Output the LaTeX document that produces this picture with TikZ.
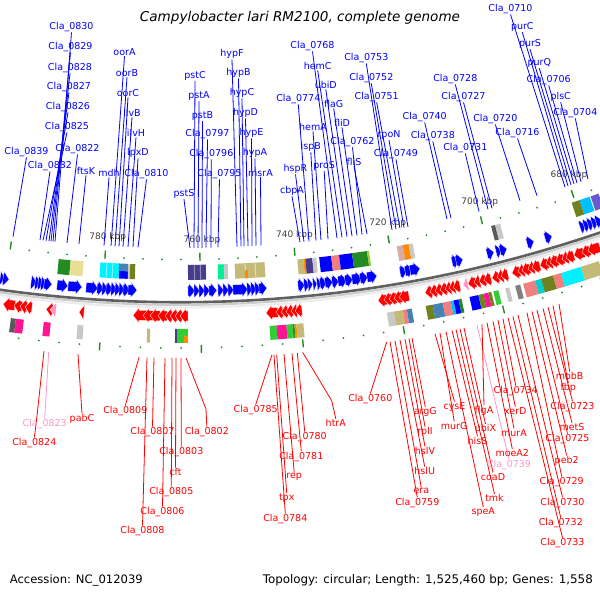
\documentclass[tikz,border=0pt]{standalone}
\usepackage{fontspec}
\setmainfont{DejaVu Sans}
\usepackage{graphicx}
\definecolor{fb}{RGB}{0,0,255}
\definecolor{fr}{RGB}{255,0,0}
\definecolor{fp}{RGB}{255,150,200}
\definecolor{tg}{RGB}{34,139,34}
\definecolor{tk}{RGB}{232,222,150}
\definecolor{dk}{RGB}{196,186,120}
\definecolor{dsb}{RGB}{72,61,139}
\definecolor{msg}{RGB}{0,240,150}
\definecolor{lc}{RGB}{240,128,128}
\definecolor{stb}{RGB}{70,130,180}
\definecolor{olv}{RGB}{110,130,30}
\definecolor{dpk}{RGB}{255,20,147}
\definecolor{lgr}{RGB}{50,205,50}
\definecolor{fgr}{RGB}{34,139,34}
\definecolor{dsky}{RGB}{0,191,255}
\definecolor{org}{RGB}{255,140,0}
\definecolor{lgy}{RGB}{200,200,200}
\definecolor{gy}{RGB}{128,128,128}
\definecolor{cy}{RGB}{0,240,255}
\definecolor{dtq}{RGB}{0,206,209}
\definecolor{yg}{RGB}{154,205,50}
\definecolor{slb}{RGB}{106,90,205}
\newcommand\polpt[2]{({180+(#2)*sin(#1)},{-998+(#2)*cos(#1)})}
\newcommand\ringpt[2]{({#1},{-998+(#2)*cos(asin(((#1)-180)/(#2)))})}
\newcommand\farr[3]{%
 \pgfmathsetmacro\aA{asin((#1-180)/1289)}%
 \pgfmathsetmacro\aB{asin((#2-180)/1289)}%
 \pgfmathsetmacro\aH{max(\aA,\aB-0.26)}%
 \filldraw[fill=#3,draw=white,line width=0.3pt] \polpt{\aA}{1284} -- \polpt{\aH}{1284} -- \polpt{\aH}{1281.5} -- \polpt{\aB}{1289} -- \polpt{\aH}{1296.5} -- \polpt{\aH}{1294} -- \polpt{\aA}{1294} -- cycle;}
\newcommand\rarr[3]{%
 \pgfmathsetmacro\aA{asin((#1-180)/1314)}%
 \pgfmathsetmacro\aB{asin((#2-180)/1314)}%
 \pgfmathsetmacro\aH{min(\aB,\aA+0.26)}%
 \filldraw[fill=#3,draw=white,line width=0.3pt] \polpt{\aB}{1309} -- \polpt{\aH}{1309} -- \polpt{\aH}{1306.5} -- \polpt{\aA}{1314} -- \polpt{\aH}{1321.5} -- \polpt{\aH}{1319} -- \polpt{\aB}{1319} -- cycle;}
\newcommand\cogx[5]{%
 \pgfmathsetmacro\aA{asin((#1-180)/(#4/2+#5/2))}%
 \pgfmathsetmacro\aB{asin((#2-180)/(#4/2+#5/2))}%
 \fill[#3] \polpt{\aA}{#4} -- \polpt{\aB}{#4} -- \polpt{\aB}{#5} -- \polpt{\aA}{#5} -- cycle;}
\newcommand\cogb[3]{\cogx{#1}{#2}{#3}{1263}{1278}}
\newcommand\cogr[3]{\cogx{#1}{#2}{#3}{1327}{1341}}
\newcommand\blab[5]{\node[lb] (#1) at (#2,#3) {#4}; \path \ringpt{#5}{1246} coordinate (#1e); \draw[bline] (#1e) -- (#1.south);}
\newcommand\rlab[6]{\node[lr,text=#1] (#2) at (#3,#4) {#5}; \path \ringpt{#6}{1356} coordinate (#2s); \draw[#1,line width=0.8pt] (#2s) -- (#2.north);}
\newcommand\rlabk[8]{\node[lr,text=#1] (#2) at (#3,#4) {#5}; \path \ringpt{#6}{1356} coordinate (#2s); \coordinate (#2k) at (#7,#8); \draw[#1,line width=0.8pt] (#2s) -- (#2k) -- (#2.north);}
\tikzset{
 lb/.style={font=\fontsize{9.5}{11}\selectfont, text=fb, inner sep=0.5pt},
 lr/.style={font=\fontsize{9.5}{11}\selectfont, inner sep=0.5pt},
 bline/.style={fb, line width=0.8pt},
 tl/.style={font=\fontsize{9}{10}\selectfont, text=black!75, inner sep=0.5pt}
}
\begin{document}
\begin{tikzpicture}[x=1pt,y=-1pt]
\useasboundingbox (0,0) rectangle (600,600);
\fill[white] (0,0) rectangle (600,600);
\begin{scope}
\clip (0,0) rectangle (600,600);
% backbone
\draw[line width=2pt,gray!15] plot[domain=-9:20,samples=90] ({180+1305.5*sin(\x)},{-998+1305.5*cos(\x)});
\draw[line width=2pt,gray!40] plot[domain=-9:20,samples=90] ({180+1303*sin(\x)},{-998+1303*cos(\x)});
\draw[line width=2.6pt,gray!75!black] plot[domain=-9:20,samples=90] ({180+1300.3*sin(\x)},{-998+1300.3*cos(\x)});
% ticks
\foreach \k in {676,680,...,800} {
 \pgfmathsetmacro\ang{0.91+(760-\k)*0.2165}
 \pgfmathtruncatemacro\mm{mod(\k,20)}
 \ifnum\mm=0
  \draw[tg,line width=1.4pt] \polpt{\ang}{1251} -- \polpt{\ang}{1259};
  \draw[tg,line width=1.4pt] \polpt{\ang}{1343} -- \polpt{\ang}{1351};
 \else
  \fill[tg] \polpt{\ang}{1257.5} circle (1pt);
  \fill[tg] \polpt{\ang}{1346} circle (1pt);
 \fi}
% blue COG boxes
\cogb{58}{70}{fgr}\cogb{70}{83}{tk}
\cogb{100}{119}{cy}\cogb{106}{107}{cy!50!white}\cogb{112}{113}{cy!50!white}
\cogx{119}{128}{stb}{1263}{1270.5}\cogx{119}{128}{fb}{1270.5}{1278}
\cogb{128}{130}{lgy}\cogb{130}{135}{olv}
\cogb{188}{206}{dsb}\cogb{194}{195}{dsb!60!white}\cogb{200}{201}{dsb!60!white}
\cogb{218}{224}{msg}\cogb{224}{228}{lgy}
\cogb{235}{265}{dk}\cogb{245}{246}{dk!50!white}\cogb{255}{256}{dk!50!white}\cogx{245}{248}{org}{1270}{1278}
\cogb{298}{304}{dk}\cogb{304}{306}{org}\cogb{306}{313}{dsb}\cogb{313}{317}{lgy}
\cogb{320}{332}{fb}\cogb{332}{340}{lc}\cogb{340}{353}{fb}\cogb{353}{368}{fgr}\cogb{368}{370}{yg}
\cogb{398}{404}{lgy!60!lc}\cogb{404}{410}{org}\cogb{410}{414}{lgy}
\cogb{493}{497}{gy!70!black}\cogb{497}{502}{lgy}
\cogb{574}{582}{olv}\cogb{582}{592}{dsky}\cogb{593}{601}{slb}
% red COG boxes
\cogr{10}{15}{gy!70!black}\cogr{15}{23}{dpk}
\cogr{43}{50}{dpk}
\cogr{77}{83}{lgy}
\cogr{147}{150}{dk}
\cogr{175}{177}{dsb}\cogr{177}{185}{lgr}\cogx{184}{188}{lgr}{1327}{1334}\cogx{184}{188}{org}{1334}{1341}
\cogr{270}{277}{lgr}\cogr{277}{287}{dpk}\cogr{287}{293}{lgr}\cogr{293}{295}{fgr}\cogr{295}{297}{org}\cogr{297}{304}{dk}
\cogr{388}{395}{lgy}\cogr{395}{404}{dk}\cogr{404}{408}{lc}\cogr{408}{413}{stb}
\cogr{427}{434}{olv}\cogr{434}{444}{stb}\cogr{444}{452}{lc}\cogr{452}{455}{dsky}\cogr{455}{460}{fb}\cogr{460}{463}{fgr}
\cogr{471}{480}{fb}\cogr{480}{485}{olv}\cogr{485}{490}{dpk}\cogr{490}{493}{olv}
\cogr{495}{500}{lgr}
\cogr{507}{511}{lgy}\cogr{517}{522}{gy}
\cogr{525}{537}{lc}\cogr{537}{543}{dtq}\cogr{543}{555}{olv}\cogr{555}{563}{lc}
\cogr{563}{583}{cy}\cogr{583}{601}{dk}
% blue arrows
\foreach \xa/\xb in {0/5,3/9,31/37,35/41,38/44,41/47,44/52,57/68,68/82,86/98,97/104,102/108,106/113,111/117,115/121,119/125,123/130,128/137,188/195,194/200,199/205,204/210,209/217,218/224,223/229,228/234,233/248,247/253,251/257,255/261,259/267,298/305,304/310,308/313,313/317,317/322,320/327,325/333,332/339,338/347,345/353,352/362,360/368,367/377,400/407,405/413,410/420,452/459,456/463,487/494,496/502,500/507,527/534,545/552,580/586,584/590,588/594,592/598,596/602}
 {\farr{\xa}{\xb}{fb}}
% red arrows
\foreach \xa/\xb in {3/15,14/22,20/27,25/32,46/53,79/84,133/147,143/153,150/160,158/167,165/172,170/177,175/182,180/188,266/278,276/283,281/288,286/293,291/297,295/302,378/387,384/392,389/397,394/402,399/409,425/432,430/437,435/442,440/447,445/451,449/455,453/460,468/476,474/480,479/486,484/491,492/499,497/503,501/508,512/520,518/524,522/530,528/534,532/540,540/548,546/552,550/558,556/564,562/568,566/574,574/584,582/590,588/600}
 {\rarr{\xa}{\xb}{fr}}
\rarr{50}{56}{fp}\rarr{463}{468}{fp}
\end{scope}
% tick labels
\node[tl] (k780) at (107.8,237.3) {780 kbp};
\node[tl] (k760) at (202,240) {760 kbp};
\node[tl] (k740) at (294.5,235) {740 kbp};
\node[tl] (k720) at (387.8,223.3) {720 kbp};
\node[tl] (k700) at (479.7,202.3) {700 kbp};
\node[tl] (k680) at (569,175) {680 kbp};
% blue labels
\blab{b0839}{26.5}{152}{Cla\_0839}{13}
\blab{b0832}{50}{166}{Cla\_0832}{40}
\blab{b0830}{71.5}{27}{Cla\_0830}{55}
\blab{b0829}{70.5}{47}{Cla\_0829}{53}
\blab{b0828}{70}{68}{Cla\_0828}{51}
\blab{b0827}{69}{87}{Cla\_0827}{49}
\blab{b0826}{68}{107}{Cla\_0826}{46}
\blab{b0825}{67}{127}{Cla\_0825}{43}
\blab{b0822}{77.5}{149}{Cla\_0822}{67}
\blab{bftsK}{86}{171}{ftsK}{79}
\blab{bmdh}{109}{173}{mdh}{104}
\blab{boorA}{124.5}{52}{oorA}{111}
\blab{boorB}{127}{73}{oorB}{115}
\blab{boorC}{128}{93}{oorC}{119}
\blab{bilvB}{132}{113}{ilvB}{123}
\blab{bilvH}{136}{133}{ilvH}{128}
\blab{blpxD}{138}{153}{lpxD}{133}
\blab{b0810}{146.5}{174}{Cla\_0810}{138}
\blab{bpstS}{184}{194}{pstS}{190}
\blab{bpstC}{195}{76}{pstC}{194}
\blab{bpstA}{199}{96}{pstA}{198}
\blab{bpstB}{202.5}{116}{pstB}{202}
\blab{b0797}{207.5}{134}{Cla\_0797}{206}
\blab{b0796}{211.3}{154}{Cla\_0796}{211}
\blab{b0795}{219.5}{174}{Cla\_0795}{218}
\blab{bhypF}{232}{54}{hypF}{237}
\blab{bhypB}{238.5}{73}{hypB}{241}
\blab{bhypC}{242}{93}{hypC}{244}
\blab{bhypD}{245.5}{113}{hypD}{248}
\blab{bhypE}{251.5}{133}{hypE}{252}
\blab{bhypA}{255}{153}{hypA}{256}
\blab{bmsrA}{260.5}{173}{msrA}{261}
\blab{bcbpA}{292}{191}{cbpA}{300}
\blab{bhspR}{295.5}{169}{hspR}{304}
\blab{b0774}{298.3}{99}{Cla\_0774}{309}
\blab{bispB}{310.8}{147}{ispB}{316}
\blab{bhemA}{313}{127}{hemA}{321}
\blab{bproS}{324.2}{166}{proS}{328}
\blab{b0768}{312.5}{46}{Cla\_0768}{337}
\blab{bhemC}{317.7}{66}{hemC}{342}
\blab{bubiD}{325.8}{85}{ubiD}{347}
\blab{bflaG}{333.7}{104}{flaG}{352}
\blab{bfliD}{342}{123}{fliD}{357}
\blab{b0762}{352.5}{142}{Cla\_0762}{362}
\blab{bfliS}{354}{162}{fliS}{367}
\blab{b0753}{366.3}{58}{Cla\_0753}{392}
\blab{b0752}{371.3}{78}{Cla\_0752}{396}
\blab{b0751}{376.7}{97}{Cla\_0751}{400}
\blab{brpoN}{389}{135}{rpoN}{404}
\blab{b0749}{396}{154}{Cla\_0749}{408}
\blab{b0740}{424.7}{117}{Cla\_0740}{447}
\blab{b0738}{432.8}{136}{Cla\_0738}{451}
\blab{b0731}{465.3}{148}{Cla\_0731}{479}
\blab{b0728}{455.3}{79}{Cla\_0728}{488}
\blab{b0727}{463.5}{97}{Cla\_0727}{492}
\blab{b0720}{495.3}{119}{Cla\_0720}{520}
\blab{b0716}{517.5}{133}{Cla\_0716}{537}
\blab{b0710}{510.5}{9}{Cla\_0710}{565}
\blab{bpurC}{522.3}{27}{purC}{568}
\blab{bpurS}{530}{44}{purS}{571}
\blab{bpurQ}{539.3}{63}{purQ}{574}
\blab{b0706}{548.7}{80}{Cla\_0706}{577}
\blab{bplsC}{560.7}{97}{plsC}{581}
\blab{b0704}{575.3}{113}{Cla\_0704}{588}
% red labels
\rlabk{fr}{r0824}{34.3}{443}{Cla\_0824}{44}{36}{425}
\rlab{fp}{r0823}{44.7}{424}{Cla\_0823}{48.7}
\rlab{fr}{rpabC}{82}{419}{pabC}{78}
\rlab{fr}{r0809}{125.3}{411}{Cla\_0809}{139}
\rlab{fr}{r0807}{152.5}{432}{Cla\_0807}{154}
\rlabk{fr}{r0802}{206.8}{432}{Cla\_0802}{186}{206}{409}
\rlab{fr}{r0803}{181.3}{452}{Cla\_0803}{181}
\rlab{fr}{rcft}{175.5}{472}{cft}{176}
\rlab{fr}{r0805}{171.3}{492}{Cla\_0805}{172}
\rlab{fr}{r0806}{162.5}{512}{Cla\_0806}{165}
\rlab{fr}{r0808}{142.5}{531}{Cla\_0808}{147}
\rlab{fr}{r0785}{255.7}{410}{Cla\_0785}{272}
\rlabk{fr}{rhtrA}{335.8}{423}{htrA}{302.7}{331.7}{400.7}
\rlab{fr}{r0780}{304.7}{437}{Cla\_0780}{297.3}
\rlab{fr}{r0781}{301.3}{457}{Cla\_0781}{292}
\rlab{fr}{rrep}{294.2}{477}{rep}{284}
\rlab{fr}{rtpx}{286.7}{498}{tpx}{276.7}
\rlab{fr}{r0784}{285.3}{519}{Cla\_0784}{274}
\rlab{fr}{r0760}{370.3}{399}{Cla\_0760}{386.7}
\rlab{fr}{r0759}{417.3}{503}{Cla\_0759}{390}
\rlab{fr}{rera}{421.3}{491}{era}{395}
\rlab{fr}{rhslU}{424.7}{471}{hslU}{400}
\rlab{fr}{rhslV}{425}{451}{hslV}{405}
\rlab{fr}{rrplI}{425}{432}{rplI}{409}
\rlab{fr}{rargG}{425.3}{412}{argG}{412}
\rlab{fr}{rcysE}{454.5}{406.7}{cysE}{435}
\rlab{fr}{rmurG}{454.2}{425.7}{murG}{440}
\rlab{fr}{rspeA}{483.3}{512.3}{speA}{446}
\rlab{fr}{rhisS}{477.5}{440.7}{hisS}{452}
\rlab{fr}{rtmk}{494.5}{498.3}{tmk}{456}
\rlab{fr}{rcoaD}{493}{476.7}{coaD}{460}
\rlab{fr}{rubiX}{485.5}{428.3}{ubiX}{464}
\rlab{fp}{r0739}{509}{465}{Cla\_0739}{477}
\rlab{fr}{rflgA}{484}{410.7}{flgA}{482}
\rlab{fr}{rmoeA}{512.3}{453.3}{moeA2}{487}
\rlab{fr}{rmurA}{514}{432.7}{murA}{493}
\rlab{fr}{rxerD}{515.3}{411}{xerD}{498}
\rlab{fr}{r0734}{515.7}{391}{Cla\_0734}{503}
\rlab{fr}{r0733}{562.5}{543.3}{Cla\_0733}{508}
\rlab{fr}{r0732}{560.8}{523.3}{Cla\_0732}{513}
\rlab{fr}{r0730}{562.5}{502.7}{Cla\_0730}{518}
\rlab{fr}{r0729}{561.7}{481.7}{Cla\_0729}{527}
\rlab{fr}{rpeb}{566.7}{460.7}{peb2}{532}
\rlab{fr}{r0725}{567.5}{439}{Cla\_0725}{537}
\rlab{fr}{rmetS}{572}{427.3}{metS}{543}
\rlab{fr}{r0723}{572.5}{406.7}{Cla\_0723}{548}
\rlab{fr}{rfbp}{568.3}{388.3}{fbp}{553}
\rlab{fr}{rmobB}{569.7}{376}{mobB}{559}
% title and footer
\node[inner sep=0] (title) at (300,18) {\resizebox{320pt}{!}{\itshape Campylobacter lari RM2100, complete genome}};
\node[anchor=west,inner sep=0] (acc) at (9.6,580) {\resizebox{133pt}{!}{Accession: NC\_012039}};
\node[anchor=east,inner sep=0] (topo) at (593,580) {\resizebox{330pt}{!}{Topology: circular; Length: 1,525,460 bp; Genes: 1,558}};
\end{tikzpicture}
\end{document}
